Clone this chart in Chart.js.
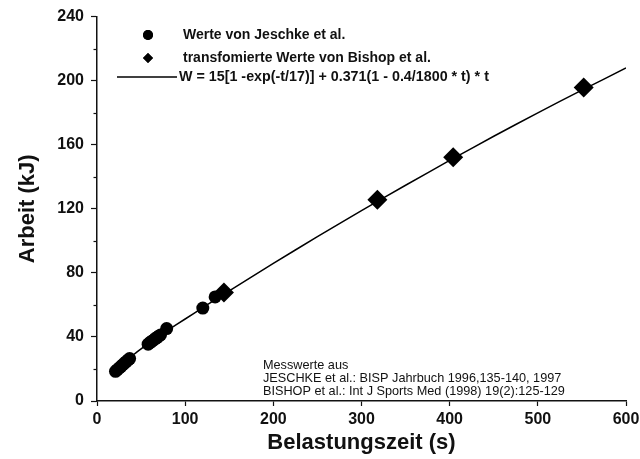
<!DOCTYPE html>
<html>
<head>
<meta charset="utf-8">
<script src="https://cdn.jsdelivr.net/npm/chart.js@4.4.1/dist/chart.umd.min.js"></script>
<style>
  html, body { margin: 0; padding: 0; background: #fff; }
  #wrap { width: 640px; height: 459px; }
</style>
</head>
<body>
<div id="wrap"><canvas id="c" width="640" height="459"></canvas></div>
<script>
// ---- data ----
const jeschkeT = [21, 23, 25, 27, 29, 31, 33, 35, 37, 58, 60, 62, 64, 66, 68, 70, 72, 79, 120, 134];
const jeschkeW = [18.5, 19.5, 20.5, 21.5, 22.5, 23.5, 24.5, 25.5, 26.5, 35.5, 36.5, 37.2, 38.0, 39.0, 39.6, 40.5, 41.2, 45.2, 58.0, 65.0];
const bishopT = [144, 318, 404, 552];
const bishopW = [67.8, 125.7, 152.2, 195.8];
const fitT = [20, 25, 30, 40, 50, 60, 70, 80, 100, 120, 150, 200, 250, 300, 350, 400, 450, 500, 550, 600];
const fitW = [17.8, 20.8, 23.5, 28.3, 32.5, 36.5, 40.3, 44.1, 51.2, 58.3, 68.8, 85.9, 102.6, 118.9, 134.7, 150.2, 165.3, 179.9, 194.1, 207.9];
const xTicks = [0, 100, 200, 300, 400, 500, 600];
const yTicks = [0, 40, 80, 120, 160, 200, 240];
const yMinorTicks = [20, 60, 100, 140, 180, 220];
const legendLabels = [
  'Werte von Jeschke et al.',
  'transfomierte Werte von Bishop et al.',
  'W = 15[1 -exp(-t/17)] + 0.371(1 - 0.4/1800 * t) * t'
];
const sourceLines = [
  'Messwerte aus',
  'JESCHKE et al.: BISP Jahrbuch 1996,135-140, 1997',
  'BISHOP et al.: Int J Sports Med (1998) 19(2):125-129'
];
const xTitle = 'Belastungszeit (s)';
const yTitle = 'Arbeit (kJ)';

const FONT = '"Liberation Sans", Arial, Helvetica, sans-serif';
const INK = '#111';

const toPts = (xs, ys) => xs.map((x, i) => ({ x: x, y: ys[i] }));

const extras = {
  id: 'extras',
  afterDraw(chart) {
    const ctx = chart.ctx;
    const ys = chart.scales.y;
    ctx.save();
    // minor y ticks
    ctx.strokeStyle = INK;
    ctx.lineWidth = 1.2;
    yMinorTicks.forEach(v => {
      const py = Math.round(ys.getPixelForValue(v)) + 0.5;
      ctx.beginPath();
      ctx.moveTo(ys.right - 3.5, py);
      ctx.lineTo(ys.right, py);
      ctx.stroke();
    });
    // legend
    const ds = chart.data.datasets;
    const lx = 148, textX = 183;
    const rows = [35, 58, 77];
    ctx.textBaseline = 'middle';
    ctx.textAlign = 'left';
    ctx.beginPath();
    Chart.helpers.drawPoint(ctx, { pointStyle: ds[0].pointStyle, radius: 5, borderWidth: 0 }, lx, rows[0]);
    ctx.fillStyle = '#000';
    ctx.fill();
    ctx.beginPath();
    Chart.helpers.drawPoint(ctx, { pointStyle: ds[1].pointStyle, radius: 5, borderWidth: 0 }, lx, rows[1]);
    ctx.fillStyle = '#000';
    ctx.fill();
    ctx.beginPath();
    ctx.strokeStyle = '#000';
    ctx.lineWidth = 1.5;
    ctx.moveTo(117, rows[2]);
    ctx.lineTo(177, rows[2]);
    ctx.stroke();
    ctx.fillStyle = INK;
    ctx.font = 'bold 14px ' + FONT;
    ctx.fillText(legendLabels[0], textX, rows[0]);
    ctx.fillText(legendLabels[1], textX, rows[1]);
    ctx.font = 'bold 14.3px ' + FONT;
    ctx.fillText(legendLabels[2], 179, rows[2]);
    // sources note
    ctx.font = '12.7px ' + FONT;
    ctx.fillStyle = INK;
    [365, 378, 391].forEach((y, i) => ctx.fillText(sourceLines[i], 263, y));
    ctx.restore();
  }
};

new Chart(document.getElementById('c'), {
  type: 'scatter',
  data: {
    datasets: [
      {
        label: legendLabels[0],
        data: toPts(jeschkeT, jeschkeW),
        pointStyle: 'circle',
        pointRadius: 6.5,
        backgroundColor: '#000',
        borderColor: '#000',
        borderWidth: 0,
        order: 1
      },
      {
        label: legendLabels[1],
        data: toPts(bishopT, bishopW),
        pointStyle: 'rectRot',
        pointRadius: 10,
        backgroundColor: '#000',
        borderColor: '#000',
        borderWidth: 0,
        order: 0
      },
      {
        type: 'line',
        label: legendLabels[2],
        data: toPts(fitT, fitW),
        showLine: true,
        borderColor: '#000',
        borderWidth: 1.5,
        pointRadius: 0,
        tension: 0.2,
        fill: false,
        order: 2
      }
    ]
  },
  options: {
    responsive: false,
    animation: false,
    events: [],
    layout: { padding: { top: 16, right: 14, bottom: 0, left: 0 } },
    plugins: { legend: { display: false }, tooltip: { enabled: false } },
    scales: {
      x: {
        type: 'linear',
        min: 0, max: 600,
        afterFit(s) { s.height = 58; s.paddingRight = 14; s.paddingLeft = 0; },
        afterBuildTicks(s) { s.ticks = xTicks.map(v => ({ value: v })); },
        grid: { display: true, drawOnChartArea: false, drawTicks: true, tickLength: 5, tickColor: INK, tickWidth: 1.2 },
        border: { display: true, color: INK, width: 1.5 },
        ticks: { color: INK, font: { family: FONT, size: 16, weight: 'bold' }, padding: 4, maxRotation: 0 },
        title: { display: true, text: xTitle, color: INK, font: { family: FONT, size: 22, weight: 'bold', lineHeight: 1.2 }, padding: 3 }
      },
      y: {
        type: 'linear',
        min: 0, max: 240,
        afterFit(s) { s.width = 97; },
        afterBuildTicks(s) { s.ticks = yTicks.map(v => ({ value: v })); },
        grid: { display: true, drawOnChartArea: false, drawTicks: true, tickLength: 6, tickColor: INK, tickWidth: 1.2 },
        border: { display: true, color: INK, width: 1.5 },
        ticks: { color: INK, font: { family: FONT, size: 16, weight: 'bold' }, padding: 7 },
        title: { display: true, text: yTitle, color: INK, font: { family: FONT, size: 22, weight: 'bold', lineHeight: 1.2 }, padding: 15 }
      }
    }
  },
  plugins: [extras]
});
</script>
</body>
</html>
